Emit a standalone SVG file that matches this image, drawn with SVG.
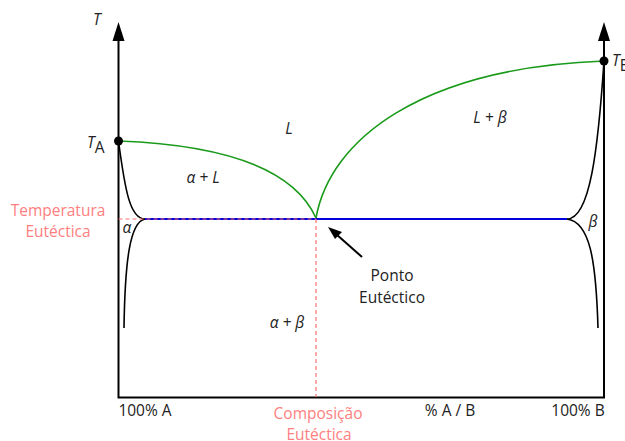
<svg xmlns="http://www.w3.org/2000/svg" width="625" height="441" viewBox="0 0 625 441">
<style>
text{font-family:"Open Sans","Liberation Sans",sans-serif;font-size:15.5px;fill:#222}
.i{font-style:italic}
.r{fill:#ff8080}
.m{text-anchor:middle}
.ax{stroke:#000;stroke-width:2;fill:none}
.g{stroke:#1a9a1a;stroke-width:1.6;fill:none}
.b{stroke:#000;stroke-width:1.6;fill:none}
.d{stroke:#ff7070;stroke-width:1.2;stroke-dasharray:4 3;fill:none}
</style>
<g id="axes">
<path class="ax" d="M118.5,40 V397.5 H604 V40"/>
<path d="M118.5,22 L112.5,41 L124.5,41 z" fill="#000"/>
<path d="M604,22 L598,41 L610,41 z" fill="#000"/>
</g>
<g id="connectors">
<path class="g" d="M118.5,141 C200,144 290,160 316,218"/>
<path class="g" d="M316,218 C330,140 420,68 604,61"/>
<path class="b" d="M118.5,141 C125,190 130,219 145,219 C130,222 125,260 124,328"/>
<path class="b" d="M604,61 C598,150 590,219 567,219 C590,222 596,260 598,328"/>
<path d="M145,219 H567" stroke="#0000dd" stroke-width="2" fill="none"/>
<path class="d" d="M118.5,219 H316"/>
<path class="d" d="M316,219 V397"/>
<path d="M362,257 L336,234" stroke="#000" stroke-width="2" fill="none"/>
<path d="M328,227 L342,232 L335,239 z" fill="#000"/>
<circle cx="118.5" cy="141" r="4.5" fill="#000"/>
<circle cx="604" cy="61" r="4.5" fill="#000"/>
</g>
<g id="labels">
<text class="i" x="93" y="25">T</text>
<text x="87" y="148"><tspan class="i">T</tspan><tspan dy="5">A</tspan></text>
<text x="612" y="66"><tspan class="i">T</tspan><tspan dy="5">B</tspan></text>
<text class="i m" x="289" y="134">L</text>
<text class="i m" x="490" y="123">L + β</text>
<text class="i m" x="203" y="183">α + L</text>
<text class="i m" x="127" y="233">α</text>
<text class="i m" x="593" y="227">β</text>
<text class="i m" x="287" y="328">α + β</text>
<text class="m" x="392" y="281">Ponto</text>
<text class="m" x="392" y="303">Eutéctico</text>
<text class="m r" x="58" y="216">Temperatura</text>
<text class="m r" x="58" y="237">Eutéctica</text>
<text class="m" x="145" y="416">100% A</text>
<text class="m r" x="318" y="419">Composição</text>
<text class="m r" x="319" y="440">Eutéctica</text>
<text class="m" x="450" y="416">% A / B</text>
<text class="m" x="578" y="416">100% B</text>
</g>
</svg>
